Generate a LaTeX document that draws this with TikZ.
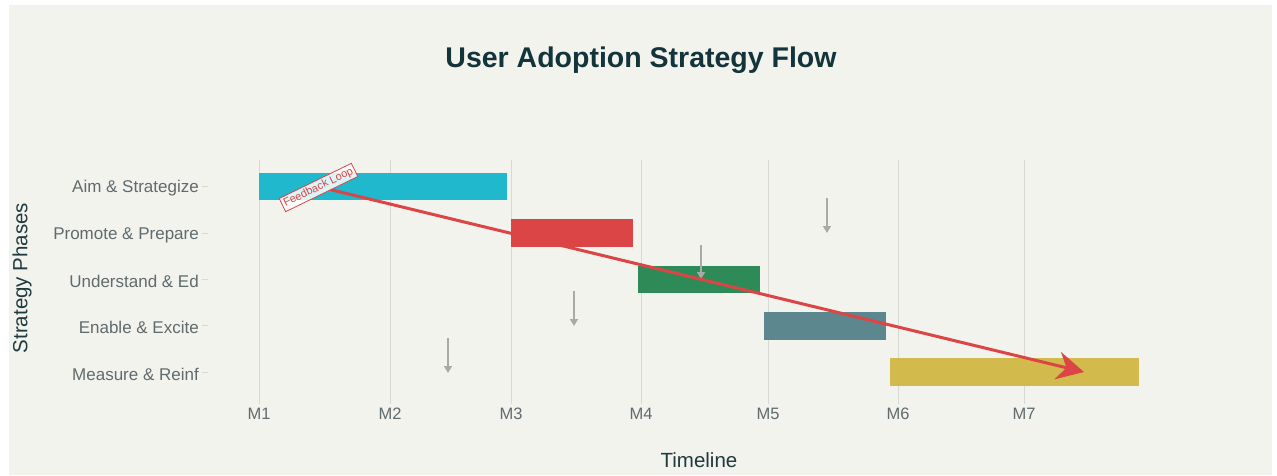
\documentclass[tikz,border=0pt]{standalone}
\usepackage{fontspec}
\setmainfont{Liberation Sans}
\usetikzlibrary{arrows.meta}
\definecolor{paper}{HTML}{F3F3EE}
\definecolor{gridc}{HTML}{D8D8D4}
\definecolor{ticktext}{HTML}{5F6B6D}
\definecolor{axistitle}{HTML}{1F3A40}
\definecolor{titlec}{HTML}{13343B}
\definecolor{cAim}{HTML}{1FB8CD}
\definecolor{cPromote}{HTML}{DB4545}
\definecolor{cUnderstand}{HTML}{2E8B57}
\definecolor{cEnable}{HTML}{5D878F}
\definecolor{cMeasure}{HTML}{D2BA4C}
\definecolor{cArrow}{HTML}{DB4545}
\definecolor{cDown}{HTML}{A9A9A6}
\tikzset{
  gridline/.style={draw=gridc, line width=0.9pt},
  tickmark/.style={draw=gridc, line width=0.9pt},
  phaselabel/.style={anchor=east, inner sep=0pt, text=ticktext, font=\fontsize{17}{20}\selectfont},
  monthlabel/.style={anchor=north, inner sep=0pt, text=ticktext, font=\fontsize{16.5}{20}\selectfont},
  axislabel/.style={text=axistitle, font=\fontsize{20.5}{24}\selectfont},
  phasebar/.style={rectangle, anchor=north west, inner sep=0pt, minimum height=27.5pt},
  feedback/.style={draw=cArrow, line width=3pt, -{Stealth[length=27pt,width=28pt,inset=9pt]}},
  loopnote/.style={draw=cArrow, fill=white, fill opacity=0.85, text opacity=1, text=cArrow,
    line width=0.8pt, inner sep=2.2pt, font=\fontsize{11}{13}\selectfont, rotate=26},
  downarrow/.style={draw=cDown, line width=1.6pt, -{Triangle[length=7pt,width=8pt]}}
}
\begin{document}
\begin{tikzpicture}[x=1pt,y=-1pt]
\useasboundingbox (0,0) rectangle (1277,475);
\fill[white] (0,0) rectangle (1277,475);
\fill[paper] (9,5) rectangle (1272,475);

% title
\node[text=titlec, font=\bfseries\fontsize{28.5}{33}\selectfont] (title) at (641,60) {User Adoption Strategy Flow};

% vertical grid lines, ticks and month labels
\foreach \xx/\m in {259/1,390/2,511/3,641/4,768/5,898/6,1024/7}{
  \draw[gridline] (\xx,160) -- (\xx,397);
  \draw[tickmark] (\xx,397) -- (\xx,404);
  \node[monthlabel] (m\m) at (\xx,408) {M\m};
}

% phase labels with ticks
\foreach \yy/\t/\n in {186/Aim \& Strategize/pA,233/Promote \& Prepare/pB,279/Understand \& Ed/pC,325/Enable \& Excite/pD,372/Measure \& Reinf/pE}{
  \node[phaselabel] (\n) at (199,\yy+2) {\t};
  \draw[tickmark] (202,\yy) -- (208,\yy);
}

% axis titles
\node[axislabel, rotate=90] (ytitle) at (22,278) {Strategy Phases};
\node[axislabel] (xtitle) at (699,460) {Timeline};

% phase bars
\node[phasebar, fill=cAim, minimum width=248pt] (barA) at (259,172.5) {};
\node[phasebar, fill=cPromote, minimum width=122pt] (barB) at (511,219) {};
\node[phasebar, fill=cUnderstand, minimum width=122pt] (barC) at (638,265.5) {};
\node[phasebar, fill=cEnable, minimum width=122pt] (barD) at (764,312) {};
\node[phasebar, fill=cMeasure, minimum width=249pt] (barE) at (890,358) {};

% hand-off arrows between phases
\coordinate (dA1) at (827,198); \coordinate (dA2) at (827,233);
\coordinate (dB1) at (701,245); \coordinate (dB2) at (701,279);
\coordinate (dC1) at (574,291); \coordinate (dC2) at (574,326);
\coordinate (dD1) at (448,338); \coordinate (dD2) at (448,373);
\draw[downarrow] (dA1) -- (dA2);
\draw[downarrow] (dB1) -- (dB2);
\draw[downarrow] (dC1) -- (dC2);
\draw[downarrow] (dD1) -- (dD2);

% feedback loop arrow
\coordinate (fbStart) at (330,189.5);
\coordinate (fbEnd) at (1084,372);
\draw[feedback] (fbStart) -- (fbEnd);
\node[loopnote] (fbNote) at (318.5,187.5) {Feedback Loop};
\end{tikzpicture}
\end{document}
